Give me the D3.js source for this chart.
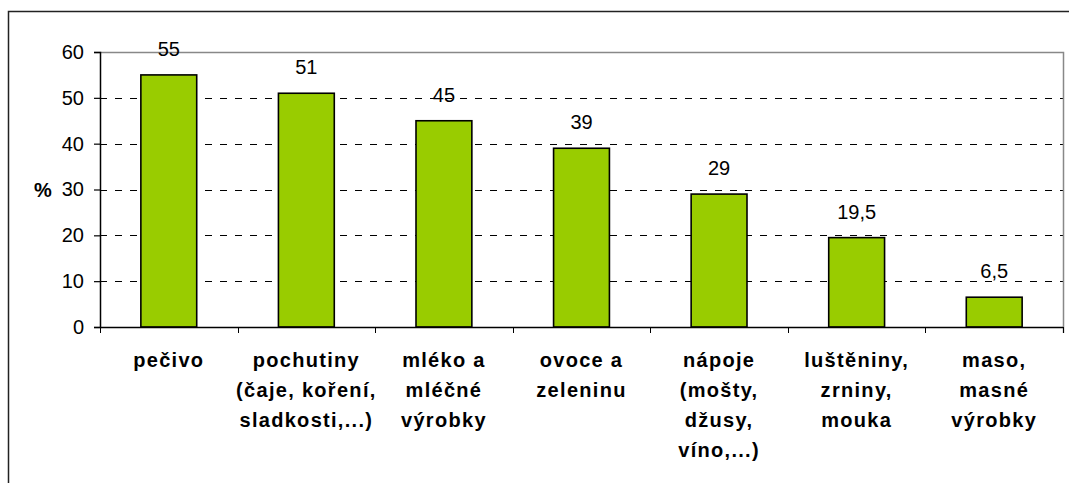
<!DOCTYPE html>
<html>
<head>
<meta charset="utf-8">
<script src="https://cdn.jsdelivr.net/npm/d3@7"></script>
<style>
  body { margin: 0; background: #fff; }
  text { font-family: "Liberation Sans", Arial, sans-serif; fill: #000; }
</style>
</head>
<body>
<div class="bar_chart"></div>
<script>
const categories = [
    ["pečivo"],
    ["pochutiny", "(čaje, koření,", "sladkosti,...)"],
    ["mléko a", "mléčné", "výrobky"],
    ["ovoce a", "zeleninu"],
    ["nápoje", "(mošty,", "džusy,", "víno,...)"],
    ["luštěniny,", "zrniny,", "mouka"],
    ["maso,", "masné", "výrobky"]
];
const values = [55, 51, 45, 39, 29, 19.5, 6.5];
const yTicks = [0, 10, 20, 30, 40, 50, 60];

const width = 1069, height = 483;
const margin = {left: 100, top: 52, right: 1063, bottom: 327};

const svg = d3.select(".bar_chart")
              .append("svg")
                  .attr("width", width)
                  .attr("height", height);

/* outer frame, cut off right and bottom */
svg.append("rect")
   .attr("x", 8.5).attr("y", 11.5)
   .attr("width", 1080).attr("height", 500)
   .attr("fill", "none")
   .attr("stroke", "#222")
   .attr("stroke-width", 1.5);

const x = d3.scaleBand()
            .domain(d3.range(values.length))
            .range([margin.left, margin.right])
            .paddingInner(0.594)
            .paddingOuter(0.297);

const band = d3.scaleBand()
               .domain(d3.range(values.length))
               .range([margin.left, margin.right]);

const y = d3.scaleLinear()
            .domain([0, 60])
            .range([margin.bottom, margin.top]);

const fmt = v => String(v).replace(".", ",");

/* gridlines */
svg.selectAll("line.grid")
   .data(yTicks.filter(t => t > 0 && t < 60))
   .enter()
   .append("line")
       .attr("x1", margin.left).attr("x2", margin.right)
       .attr("y1", d => Math.round(y(d)) + 0.5)
       .attr("y2", d => Math.round(y(d)) + 0.5)
       .attr("stroke", "#000")
       .attr("stroke-width", 1)
       .attr("stroke-dasharray", "7,8");

/* plot area top / right border */
svg.append("path")
   .attr("d", "M" + margin.left + "," + (y(60) + 0.5) + "H" + (margin.right + 0.5) + "V" + (margin.bottom + 6))
   .attr("fill", "none")
   .attr("stroke", "#888")
   .attr("stroke-width", 1.5);

/* bars */
svg.selectAll("rect.bar")
   .data(values)
   .enter()
   .append("rect")
       .attr("class", "bar")
       .attr("x", (d, i) => x(i))
       .attr("y", d => y(d))
       .attr("width", x.bandwidth())
       .attr("height", d => y(0) - y(d))
       .attr("fill", "#99cc00")
       .attr("stroke", "#000")
       .attr("stroke-width", 1.6);

/* value labels */
svg.selectAll("text.val")
   .data(values)
   .enter()
   .append("text")
       .attr("x", (d, i) => x(i) + x.bandwidth() / 2)
       .attr("y", d => y(d) - 19)
       .attr("text-anchor", "middle")
       .attr("font-size", "20px")
       .text(d => fmt(d));

/* y axis */
const yAxis = svg.append("g")
                 .attr("transform", "translate(" + margin.left + ",0)")
                 .call(d3.axisLeft(y).tickValues(yTicks).tickSize(6).tickPadding(10));
yAxis.select(".domain").attr("stroke", "#000").attr("stroke-width", 1.5);
yAxis.selectAll(".tick line").attr("stroke", "#000").attr("stroke-width", 1.2);
yAxis.selectAll(".tick text")
     .attr("font-size", "20px")
     .attr("font-family", "Liberation Sans, Arial, sans-serif")
     .attr("fill", "#000");

/* x axis line and ticks at band boundaries */
svg.append("line")
   .attr("x1", margin.left).attr("x2", margin.right)
   .attr("y1", margin.bottom + 0.5).attr("y2", margin.bottom + 0.5)
   .attr("stroke", "#000").attr("stroke-width", 1.5);

svg.selectAll("line.xtick")
   .data(d3.range(values.length + 1))
   .enter()
   .append("line")
       .attr("x1", d => Math.round(margin.left + d * band.step()) + 0.5)
       .attr("x2", d => Math.round(margin.left + d * band.step()) + 0.5)
       .attr("y1", margin.bottom)
       .attr("y2", margin.bottom + 6)
       .attr("stroke", "#000");

/* category labels */
const cat = svg.selectAll("text.cat")
               .data(categories)
               .enter()
               .append("text")
                   .attr("text-anchor", "middle")
                   .attr("font-size", "20px")
                   .attr("font-weight", "bold")
                   .attr("letter-spacing", "1.3px")
                   .attr("transform", (d, i) => "translate(" + (band(i) + band.bandwidth() / 2) + ",367)");

cat.selectAll("tspan")
   .data(d => d)
   .enter()
   .append("tspan")
       .attr("x", 0)
       .attr("y", (d, i) => i * 30)
       .text(d => d);

/* y axis title */
svg.append("text")
   .attr("x", 43)
   .attr("y", y(30) + 7)
   .attr("text-anchor", "middle")
   .attr("font-size", "20px")
   .attr("font-weight", "bold")
   .text("%");
</script>
</body>
</html>
